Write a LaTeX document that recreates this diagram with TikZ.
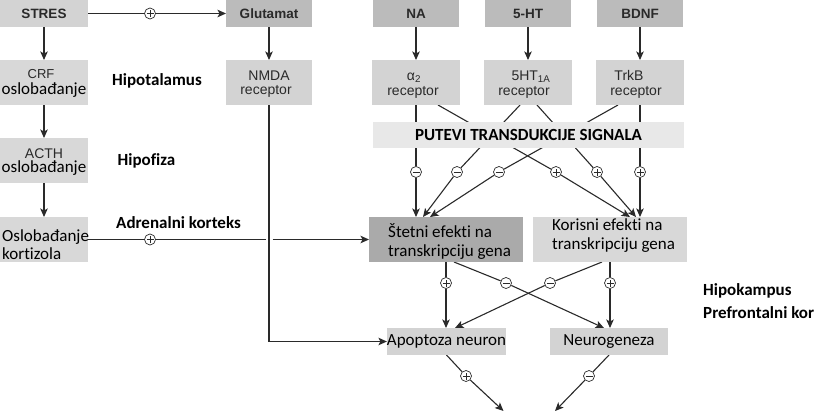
\documentclass[tikz,border=0pt]{standalone}
\usepackage{fontspec}
\setmainfont{Liberation Sans}
\newfontfamily\carl[Ligatures=NoCommon]{Carlito}
\usetikzlibrary{arrows.meta,backgrounds}
\definecolor{gA}{HTML}{D3D3D3}
\definecolor{gB}{HTML}{BBBBBB}
\definecolor{gC}{HTML}{D8D8D8}
\definecolor{gD}{HTML}{E8E8E8}
\definecolor{gE}{HTML}{AAAAAA}
\definecolor{ink}{HTML}{2A2A2A}
\begin{document}
\begin{tikzpicture}[x=1pt,y=-1pt,
  box/.style={inner sep=0pt, outer sep=0pt, draw=none},
  arb/.style={font=\fontsize{13.5}{14}\selectfont\bfseries, text=ink},
  ar/.style={font=\fontsize{14}{14}\selectfont, text=ink, inner sep=0pt},
  cb/.style={font=\carl\fontsize{17}{17}\selectfont\bfseries, text=black, inner sep=0pt},
  cr/.style={font=\carl\fontsize{17}{17}\selectfont, text=black, inner sep=0pt},
  ln/.style={draw=ink, line width=1.1pt},
  arr/.style={ln, -{Stealth[length=8.5pt,width=7.5pt,inset=2pt]}},
  sgn/.style={circle, draw=ink, fill=white, minimum size=11pt, inner sep=0pt, line width=0.7pt},
  plus/.style={sgn, path picture={\draw[line width=0.8pt,ink]
     ([xshift=-3.5pt]path picture bounding box.center) -- ([xshift=3.5pt]path picture bounding box.center)
     ([yshift=-3.5pt]path picture bounding box.center) -- ([yshift=3.5pt]path picture bounding box.center);}},
  minus/.style={sgn, path picture={\draw[line width=0.8pt,ink]
     ([xshift=-3.5pt]path picture bounding box.center) -- ([xshift=3.5pt]path picture bounding box.center);}}
]
\useasboundingbox (0,0) rectangle (821,412);

% left column
\node[box, fill=gA, minimum width=88pt, minimum height=27pt, arb] (stres) at (44,13.5) {STRES};
\node[box, fill=gC, minimum width=88pt, minimum height=45pt] (crf) at (44,82.5) {};
\node[box, fill=gC, minimum width=88pt, minimum height=45pt] (acth) at (44,160.5) {};
\node[box, fill=gC, minimum width=88pt, minimum height=45pt] (kort) at (44,239.5) {};
\node[ar, anchor=base, font=\fontsize{13}{13}\selectfont] (crf1) at (41,78.5) {CRF};
\node[cr, anchor=base] (crf2) at (44,94) {oslobađanje};
\node[ar, anchor=base] (acth1) at (44,158) {ACTH};
\node[cr, anchor=base] (acth2) at (44,172.5) {oslobađanje};
\node[cr, anchor=base west] (kort1) at (2,241.5) {Oslobađanje};
\node[cr, anchor=base west] (kort2) at (2,259) {kortizola};

% glutamate column
\node[box, fill=gB, minimum width=86pt, minimum height=27pt, arb] (glut) at (269,13.5) {Glutamat};
\node[box, fill=gA, minimum width=86pt, minimum height=45pt] (nmda) at (269,82.5) {};
\node[ar, anchor=base] (nmda1) at (269,80) {NMDA};
\node[ar, anchor=base] (nmda2) at (266,94.5) {receptor};

% region labels
\node[cb] (hipot) at (157,81) {Hipotalamus};
\node[cb] (hipof) at (146.5,161) {Hipofiza};
\node[cb] (adren) at (178.5,222.5) {Adrenalni korteks};
\node[cb, anchor=west] (hipok) at (703,291) {Hipokampus};
\node[cb, anchor=west] (pref) at (703,313) {Prefrontalni kor};

% neurotransmitters
\node[box, fill=gB, minimum width=86pt, minimum height=27pt, arb] (na) at (416,13.5) {NA};
\node[box, fill=gB, minimum width=86pt, minimum height=27pt, arb] (ht) at (528,13.5) {5-HT};
\node[box, fill=gB, minimum width=86pt, minimum height=27pt, arb] (bdnf) at (640,13.5) {BDNF};

% receptors
\node[box, fill=gA, minimum width=88pt, minimum height=45pt] (alpha) at (416,82.5) {};
\node[box, fill=gA, minimum width=88pt, minimum height=45pt] (htr) at (528,82.5) {};
\node[box, fill=gA, minimum width=88pt, minimum height=45pt] (trkb) at (640,82.5) {};
\node[ar, anchor=base] (alpha1) at (414,80) {α\textsubscript{2}};
\node[ar, anchor=base] (alpha2) at (413,95.5) {receptor};
\node[ar, anchor=base] (htr1) at (531,80) {5HT\textsubscript{1A}};
\node[ar, anchor=base] (htr2) at (524,95.5) {receptor};
\node[ar, anchor=base] (trkb1) at (629,80) {TrkB};
\node[ar, anchor=base] (trkb2) at (636,95.5) {receptor};

% transduction bar
\node[box, fill=gD, minimum width=311pt, minimum height=26pt, cb] (put) at (528.5,135) {PUTEVI TRANSDUKCIJE SIGNALA};

% effects
\node[box, fill=gE, minimum width=154pt, minimum height=45pt] (stet) at (446,239.5) {};
\node[box, fill=gC, minimum width=154pt, minimum height=45pt] (kor) at (610,239.5) {};
\node[cr, anchor=base west] (stet1) at (388,237.3) {Štetni efekti na};
\node[cr, anchor=base west] (stet2) at (388,256.7) {transkripciju gena};
\node[cr, anchor=base west] (kor1) at (552,230) {Korisni efekti na};
\node[cr, anchor=base west] (kor2) at (552,249.3) {transkripciju gena};

% outcomes
\node[box, fill=gA, minimum width=119pt, minimum height=27pt, cr] (apo) at (446.5,341.5) {Apoptoza neuron};
\node[box, fill=gA, minimum width=118pt, minimum height=27pt, cr] (neu) at (609,341.5) {Neurogeneza};

% signs
\node[plus] (p0) at (150,13.5) {};
\node[plus] (p7) at (150,239.5) {};
\node[minus] (m1) at (416,172) {};
\node[minus] (m2) at (457,172) {};
\node[minus] (m3) at (499,172) {};
\node[plus] (p1) at (556,172) {};
\node[plus] (p2) at (597,172) {};
\node[plus] (p3) at (640,172) {};
\node[plus] (p4) at (446,283) {};
\node[minus] (m4) at (506,283) {};
\node[minus] (m5) at (550,283) {};
\node[plus] (p5) at (610,283) {};
\node[plus] (p6) at (466,376) {};
\node[minus] (m6) at (589,376) {};

\coordinate (gapL) at (266,239.5);
\coordinate (gapR) at (272.5,239.5);
\coordinate (e1) at (503.5,411);
\coordinate (e2) at (555,411);

\begin{scope}[on background layer]
  \draw[ln] (stres) -- (p0);
  \draw[arr] (p0) -- (glut);
  \draw[arr] (stres) -- (crf);
  \draw[arr] (crf) -- (acth);
  \draw[arr] (acth) -- (kort);
  \draw[arr] (glut) -- (nmda);
  \draw[arr] (na) -- (alpha);
  \draw[arr] (ht) -- (htr);
  \draw[arr] (bdnf) -- (trkb);
  \draw[ln] (kort) -- (p7) -- (gapL);
  \draw[arr] (gapR) -- (stet.west);
  \draw[arr] (nmda.south) |- (apo.west);
  % transduction outputs
  \draw[arr] (alpha.south -| m1) -- (m1) -- (m1 |- stet.north);
  \draw[arr] ([xshift=22pt]alpha.south) -- (p1) -- ([xshift=20pt]kor.north);
  \draw[arr] ([xshift=-8pt]htr.south) -- (m2) -- ([xshift=-23pt]stet.north);
  \draw[arr] ([xshift=9pt]htr.south) -- (p2) -- ([xshift=26pt]kor.north);
  \draw[arr] ([xshift=-22pt]trkb.south) -- (m3) -- ([xshift=-16pt]stet.north);
  \draw[arr] (trkb.south) -- (p3) -- (p3 |- kor.north);
  % effects to outcomes
  \draw[arr] (stet.south) -- (p4) -- (p4 |- apo.north);
  \draw[arr] ([xshift=8pt]stet.south) -- (m4) -- ([xshift=-5pt]neu.north);
  \draw[arr] (kor.south) -- (p5) -- (p5 |- neu.north);
  \draw[arr] ([xshift=-8pt]kor.south) -- (m5) -- ([xshift=8.5pt]apo.north);
  % outcomes down
  \draw[arr] (apo.south) -- (p6) -- (e1);
  \draw[arr] (neu.south) -- (m6) -- (e2);
\end{scope}
\end{tikzpicture}
\end{document}
